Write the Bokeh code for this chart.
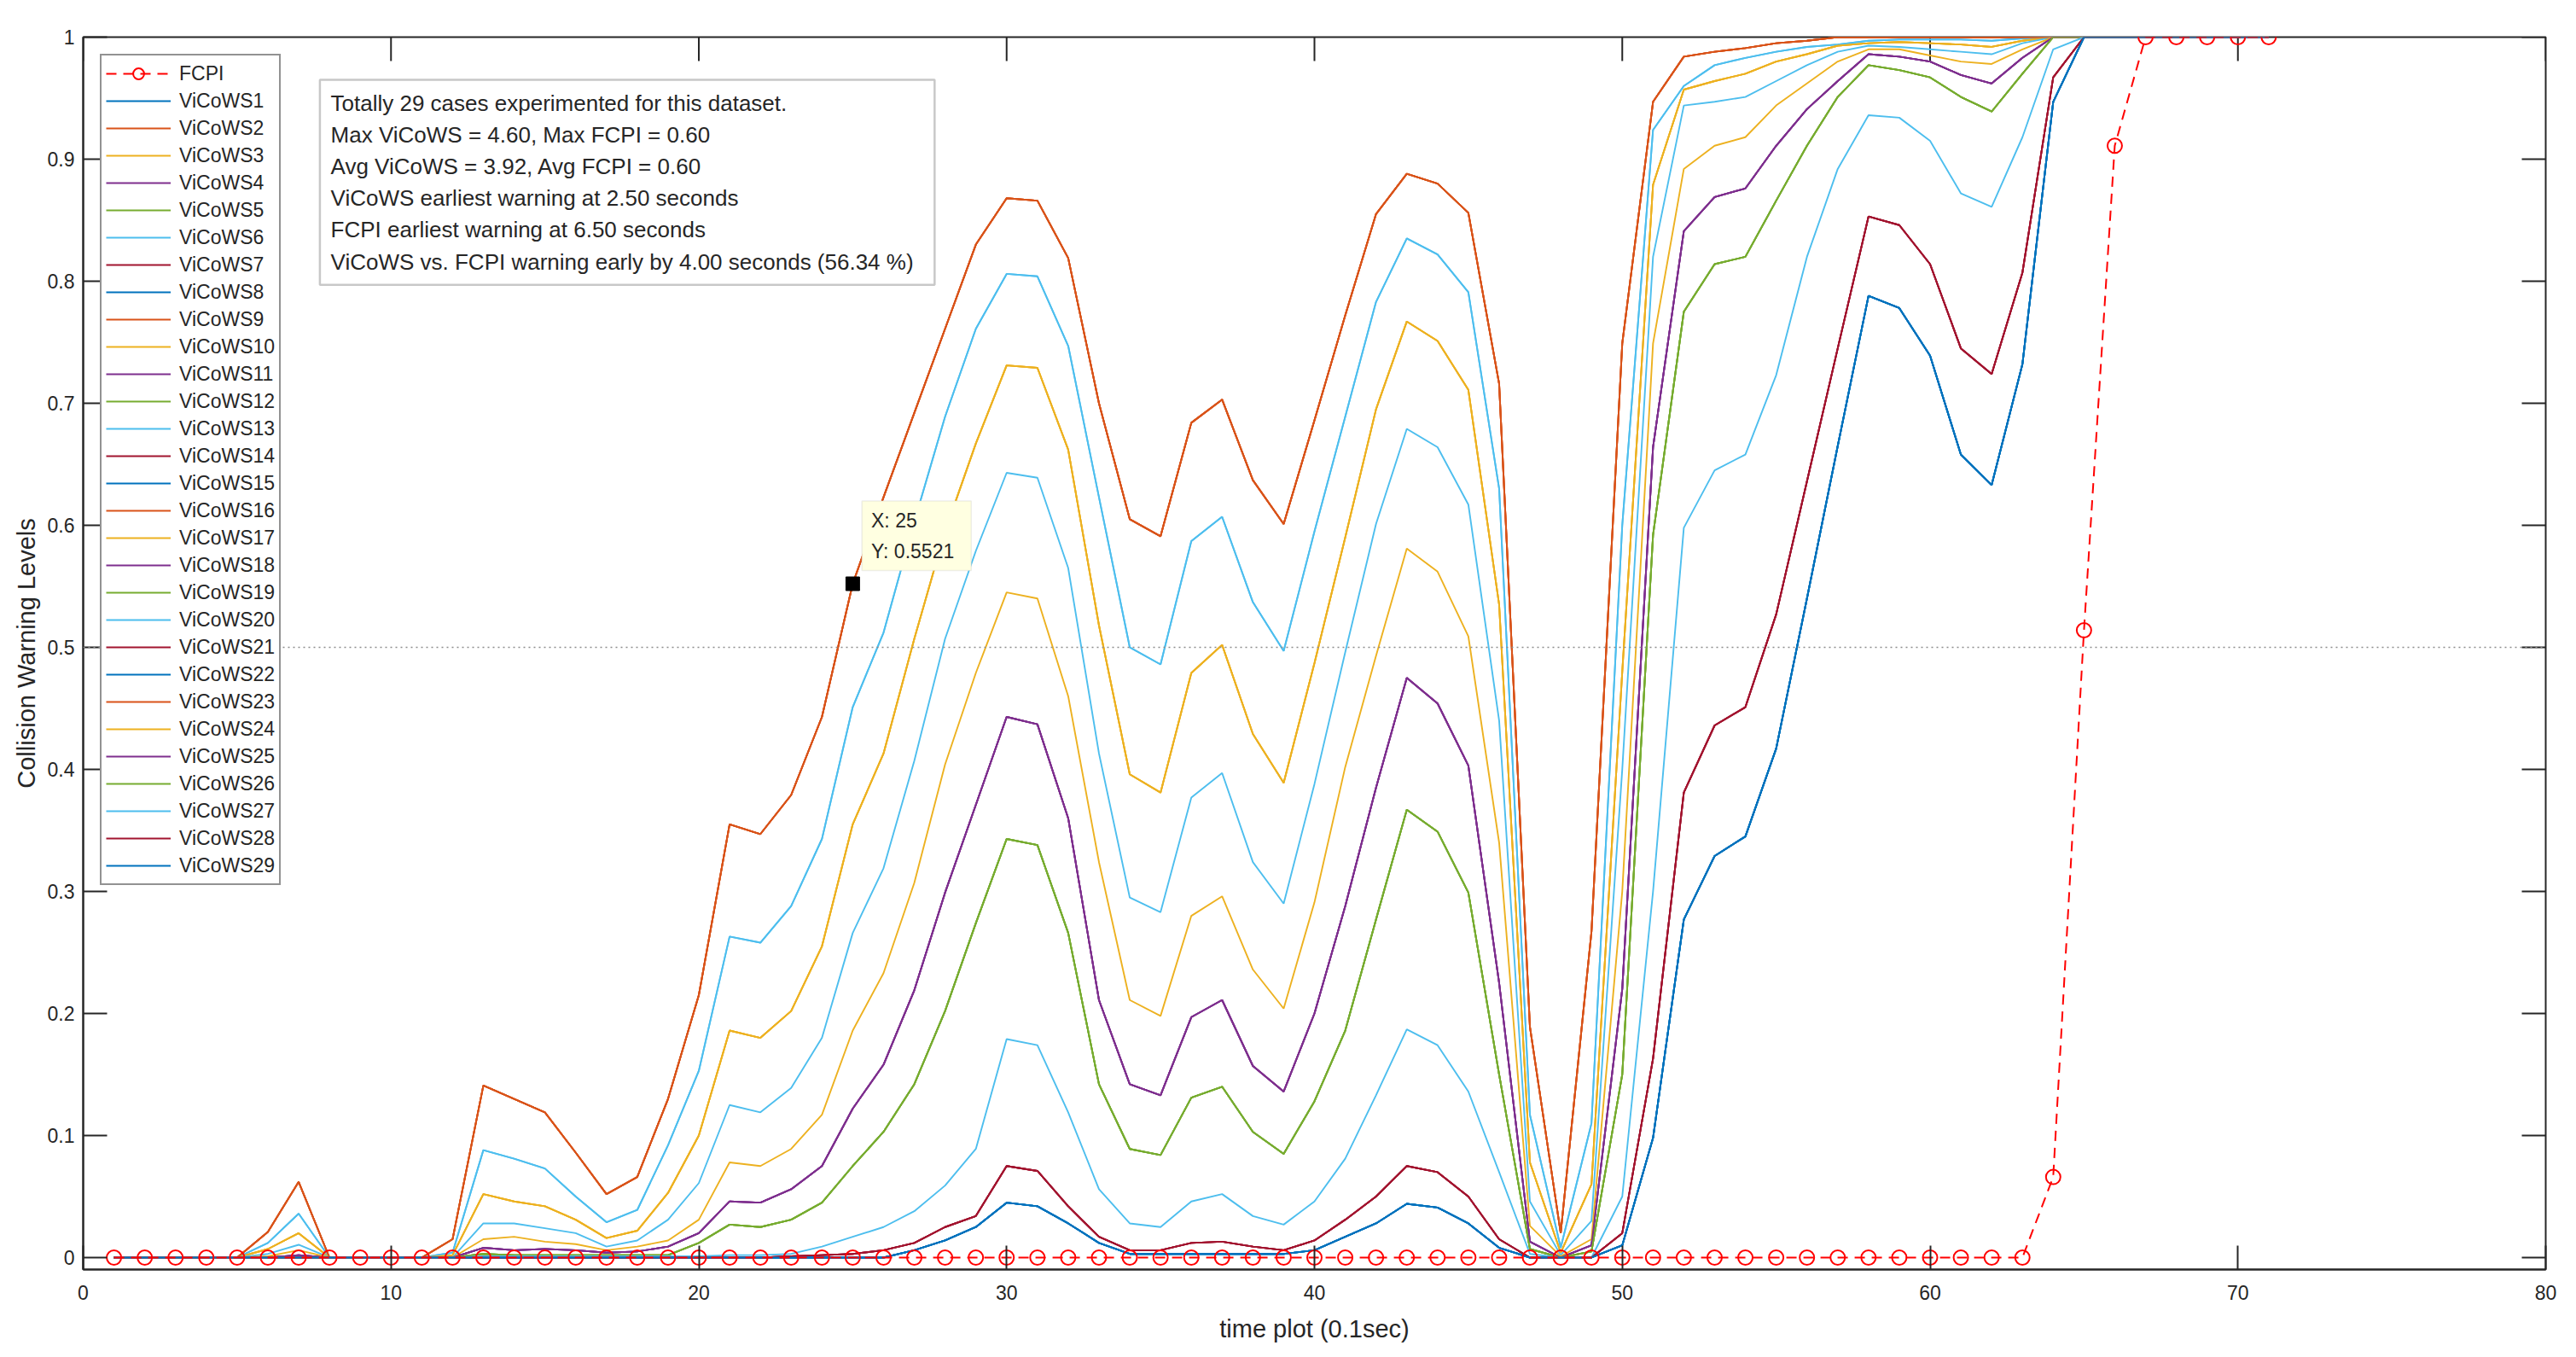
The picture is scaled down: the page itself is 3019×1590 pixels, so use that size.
from bokeh.plotting import figure
from bokeh.models import (Range1d, FixedTicker, NumeralTickFormatter,
                          Legend, LegendItem, Span, BoxAnnotation, Label)
from bokeh.embed import file_html
from bokeh.resources import INLINE

# ---------------- data ----------------
time = list(range(1, 72))

FCPI = [0, 0, 0, 0, 0, 0, 0, 0, 0, 0, 0, 0, 0, 0, 0, 0, 0, 0, 0, 0,
        0, 0, 0, 0, 0, 0, 0, 0, 0, 0, 0, 0, 0, 0, 0, 0, 0, 0, 0, 0,
        0, 0, 0, 0, 0, 0, 0, 0, 0, 0, 0, 0, 0, 0, 0, 0, 0, 0, 0, 0,
        0, 0, 0, 0.066, 0.514, 0.911, 1, 1, 1, 1, 1]

curve_A = [0, 0, 0, 0, 0, 0.021, 0.062, 0, 0, 0, 0, 0.015, 0.141, 0.13, 0.119, 0.086, 0.052, 0.066, 0.13, 0.215,
           0.355, 0.347, 0.379, 0.443, 0.5521, 0.623, 0.692, 0.761, 0.83, 0.868,
           0.866, 0.819, 0.70, 0.605, 0.591, 0.684, 0.703, 0.637, 0.601, 0.686,
           0.772, 0.855, 0.888, 0.88, 0.856, 0.716, 0.189, 0.02, 0.267, 0.749,
           0.947, 0.984, 0.988, 0.991, 0.995, 0.997, 1, 1, 1, 1,
           1, 1, 1, 1, 1, 1, 1, 1, 1, 1, 1]
curve_B = [0, 0, 0, 0, 0, 0.012, 0.036, 0, 0, 0, 0, 0.004, 0.088, 0.081, 0.073, 0.05, 0.029, 0.039, 0.092, 0.153,
           0.263, 0.258, 0.288, 0.343, 0.451, 0.512, 0.603, 0.689, 0.761, 0.806,
           0.804, 0.747, 0.623, 0.5, 0.486, 0.587, 0.607, 0.537, 0.497, 0.595,
           0.689, 0.783, 0.835, 0.822, 0.791, 0.63, 0.117, 0.008, 0.11, 0.6,
           0.924, 0.96, 0.977, 0.983, 0.988, 0.992, 0.994, 0.997, 0.998, 0.998,
           0.998, 0.997, 0.999, 1, 1, 1, 1, 1, 1, 1, 1]
curve_C = [0, 0, 0, 0, 0, 0.007, 0.02, 0, 0, 0, 0, 0.002, 0.052, 0.046, 0.042, 0.031, 0.016, 0.022, 0.053, 0.1,
           0.186, 0.18, 0.202, 0.255, 0.355, 0.413, 0.507, 0.595, 0.667, 0.731,
           0.729, 0.662, 0.518, 0.396, 0.381, 0.479, 0.502, 0.429, 0.389, 0.487,
           0.59, 0.695, 0.767, 0.751, 0.711, 0.535, 0.078, 0.004, 0.06, 0.48,
           0.879, 0.957, 0.964, 0.97, 0.98, 0.986, 0.993, 0.995, 0.996, 0.995,
           0.994, 0.992, 0.997, 1, 1, 1, 1, 1, 1, 1, 1]
curve_D = [0, 0, 0, 0, 0, 0.003, 0.0105, 0, 0, 0, 0, 0, 0.028, 0.028, 0.024, 0.02, 0.009, 0.014, 0.031, 0.061,
           0.125, 0.119, 0.139, 0.18, 0.266, 0.319, 0.407, 0.507, 0.579, 0.643,
           0.639, 0.565, 0.413, 0.295, 0.283, 0.377, 0.397, 0.324, 0.29, 0.388,
           0.496, 0.601, 0.679, 0.664, 0.617, 0.44, 0.046, 0.002, 0.03, 0.4,
           0.82, 0.944, 0.947, 0.951, 0.964, 0.977, 0.988, 0.993, 0.992, 0.99,
           0.988, 0.986, 0.995, 1, 1, 1, 1, 1, 1, 1, 1]
curve_E = [0, 0, 0, 0, 0, 0.001, 0.006, 0, 0, 0, 0, 0, 0.015, 0.017, 0.013, 0.011, 0.006, 0.009, 0.014, 0.031,
           0.078, 0.075, 0.089, 0.117, 0.186, 0.233, 0.307, 0.404, 0.479, 0.545,
           0.54, 0.46, 0.324, 0.211, 0.198, 0.28, 0.296, 0.236, 0.204, 0.291,
           0.402, 0.493, 0.581, 0.562, 0.509, 0.34, 0.026, 0.001, 0.015, 0.3,
           0.749, 0.892, 0.911, 0.918, 0.944, 0.962, 0.98, 0.99, 0.99, 0.985,
           0.98, 0.978, 0.99, 1, 1, 1, 1, 1, 1, 1, 1]
curve_F = [0, 0, 0, 0, 0, 0, 0.002, 0, 0, 0, 0, 0, 0.008, 0.006, 0.007, 0.006, 0.004, 0.005, 0.009, 0.02,
           0.046, 0.045, 0.056, 0.075, 0.122, 0.158, 0.219, 0.299, 0.371, 0.443,
           0.437, 0.36, 0.211, 0.142, 0.133, 0.197, 0.211, 0.157, 0.136, 0.2,
           0.288, 0.385, 0.475, 0.454, 0.403, 0.225, 0.013, 0, 0.01, 0.22,
           0.664, 0.841, 0.869, 0.876, 0.911, 0.941, 0.964, 0.986, 0.984, 0.98,
           0.969, 0.962, 0.983, 1, 1, 1, 1, 1, 1, 1, 1]
curve_G = [0, 0, 0, 0, 0, 0, 0, 0, 0, 0, 0, 0, 0.003, 0.002, 0.002, 0.002, 0.002, 0.002, 0.002, 0.012,
           0.027, 0.025, 0.031, 0.045, 0.075, 0.103, 0.142, 0.202, 0.274, 0.343,
           0.338, 0.266, 0.142, 0.089, 0.084, 0.131, 0.14, 0.103, 0.085, 0.128,
           0.186, 0.277, 0.367, 0.349, 0.299, 0.15, 0.007, 0, 0.005, 0.15,
           0.592, 0.775, 0.814, 0.82, 0.866, 0.911, 0.951, 0.977, 0.973, 0.967,
           0.951, 0.939, 0.97, 1, 1, 1, 1, 1, 1, 1, 1]
curve_H = [0, 0, 0, 0, 0, 0, 0, 0, 0, 0, 0, 0, 0.001, 0.001, 0.001, 0.001, 0.001, 0.001, 0.001, 0.001,
           0.002, 0.002, 0.003, 0.009, 0.017, 0.025, 0.038, 0.059, 0.089, 0.179,
           0.174, 0.119, 0.056, 0.028, 0.025, 0.046, 0.052, 0.034, 0.027, 0.046,
           0.081, 0.133, 0.187, 0.174, 0.136, 0.07, 0.003, 0, 0, 0.05,
           0.3, 0.598, 0.645, 0.658, 0.723, 0.82, 0.892, 0.936, 0.934, 0.915,
           0.872, 0.861, 0.918, 0.99, 1, 1, 1, 1, 1, 1, 1]
curve_I = [0, 0, 0, 0, 0, 0, 0, 0, 0, 0, 0, 0, 0, 0, 0, 0, 0, 0, 0, 0,
           0, 0, 0.001, 0.002, 0.003, 0.006, 0.012, 0.025, 0.034, 0.075,
           0.071, 0.042, 0.017, 0.006, 0.006, 0.012, 0.013, 0.009, 0.006, 0.014,
           0.031, 0.05, 0.075, 0.07, 0.05, 0.015, 0, 0, 0, 0.02,
           0.163, 0.381, 0.436, 0.451, 0.527, 0.636, 0.745, 0.853, 0.846, 0.814,
           0.745, 0.724, 0.807, 0.967, 1, 1, 1, 1, 1, 1, 1]
curve_J = [0, 0, 0, 0, 0, 0, 0, 0, 0, 0, 0, 0, 0, 0, 0, 0, 0, 0, 0, 0,
           0, 0, 0, 0, 0, 0, 0.006, 0.014, 0.025, 0.045,
           0.042, 0.028, 0.012, 0.003, 0.003, 0.003, 0.003, 0.003, 0.003, 0.006,
           0.017, 0.028, 0.044, 0.041, 0.028, 0.008, 0, 0, 0, 0.01,
           0.098, 0.277, 0.329, 0.345, 0.417, 0.54, 0.665, 0.788, 0.778, 0.739,
           0.658, 0.633, 0.732, 0.947, 1, 1, 1, 1, 1, 1, 1]

curves = {"A": curve_A, "B": curve_B, "C": curve_C, "D": curve_D, "E": curve_E,
          "F": curve_F, "G": curve_G, "H": curve_H, "I": curve_I, "J": curve_J}

# which visible curve each ViCoWS case follows (many cases coincide)
series_curve = ["J", "A", "C", "F", "G", "B", "I",
                "J", "A", "C", "F", "G", "B", "I",
                "J", "A", "C", "F", "G", "D", "I",
                "J", "A", "E", "F", "G", "H", "I",
                "J"]
series_names = [f"ViCoWS{i}" for i in range(1, 30)]

x_ticks = [0, 10, 20, 30, 40, 50, 60, 70, 80]
y_ticks = [0, 0.1, 0.2, 0.3, 0.4, 0.5, 0.6, 0.7, 0.8, 0.9, 1.0]

info_lines = ["Totally 29 cases experimented for this dataset.",
              "Max ViCoWS = 4.60, Max FCPI = 0.60",
              "Avg ViCoWS = 3.92, Avg FCPI = 0.60",
              "ViCoWS earliest warning at 2.50 seconds",
              "FCPI earliest warning at 6.50 seconds",
              "ViCoWS vs. FCPI warning early by 4.00 seconds (56.34 %)"]

tip_x = 25

# ---------------- styling ----------------
matlab_colors = ["#0072BD", "#D95319", "#EDB120", "#7E2F8E", "#77AC30", "#4DBEEE", "#A2142F"]
FONT = "Liberation Sans"
DARK = "#262626"
X0, X1 = 0, 80
Y0, Y1 = -0.0098, 1.0
W, H = 3011, 1582
BL, BR, BT, BB = 97, 28, 43, 95
TICK = 28  # px, inward

p = figure(width=W, height=H, output_backend="svg", toolbar_location=None,
           x_range=Range1d(X0, X1), y_range=Range1d(Y0, Y1),
           min_border_left=BL, min_border_right=BR, min_border_top=BT, min_border_bottom=BB)
p.background_fill_color = "white"
p.border_fill_color = "white"
p.xgrid.grid_line_color = None
p.ygrid.grid_line_color = None
p.outline_line_color = DARK
p.outline_line_width = 2

for ax, ticks in ((p.xaxis[0], x_ticks), (p.yaxis[0], y_ticks)):
    ax.ticker = FixedTicker(ticks=ticks)
    ax.major_tick_in = TICK
    ax.major_tick_out = 0
    ax.minor_tick_line_color = None
    ax.axis_line_color = DARK
    ax.axis_line_width = 2
    ax.major_tick_line_color = DARK
    ax.major_tick_line_width = 2
    ax.major_label_text_font = FONT
    ax.major_label_text_font_size = "23px"
    ax.major_label_text_color = DARK
    ax.axis_label_text_font = FONT
    ax.axis_label_text_font_size = "29px"
    ax.axis_label_text_font_style = "normal"
    ax.axis_label_text_color = DARK
p.yaxis[0].formatter = NumeralTickFormatter(format="0.[0]")
p.xaxis[0].major_label_standoff = 18
p.yaxis[0].major_label_standoff = 10
p.xaxis.axis_label = "time plot (0.1sec)"
p.yaxis.axis_label = "Collision Warning Levels"
p.xaxis[0].axis_label_standoff = 15
p.yaxis[0].axis_label_standoff = 6

# inward ticks on the top and right edges of the box
frame_w = W - BL - BR
frame_h = H - BT - BB
dy_tick = TICK * (Y1 - Y0) / frame_h
dx_tick = TICK * (X1 - X0) / frame_w
p.segment(x0=x_ticks, y0=[Y1] * len(x_ticks), x1=x_ticks, y1=[Y1 - dy_tick] * len(x_ticks),
          line_color=DARK, line_width=2)
p.segment(x0=[X1] * len(y_ticks), y0=y_ticks, x1=[X1 - dx_tick] * len(y_ticks), y1=y_ticks,
          line_color=DARK, line_width=2)

# 0.5 reference line
p.add_layout(Span(location=0.5, dimension="width", line_color="#8c8c8c",
                  line_dash="dotted", line_width=1.5))

# ViCoWS cases
vicows_renderers = []
for i, (name, key) in enumerate(zip(series_names, series_curve)):
    r = p.line(time, curves[key], line_color=matlab_colors[i % 7], line_width=1.9)
    vicows_renderers.append(r)

# FCPI
f_line = p.line(time, FCPI, line_color="#FF0000", line_width=2, line_dash="12 8")
f_mark = p.scatter(time, FCPI, marker="circle", size=17, line_color="#FF0000",
                   fill_color=None, line_width=2)

# legend
items = [LegendItem(label="FCPI", renderers=[f_line, f_mark])]
items += [LegendItem(label=n, renderers=[r]) for n, r in zip(series_names, vicows_renderers)]
legend = Legend(items=items, location="top_left", margin=20, padding=5, spacing=0,
                glyph_width=76, glyph_height=32, label_height=32, label_standoff=10,
                label_text_font=FONT, label_text_font_size="23px", label_text_color=DARK,
                border_line_color=DARK, border_line_width=2,
                background_fill_color="white", background_fill_alpha=1.0)
p.add_layout(legend)

# info box
p.add_layout(BoxAnnotation(left=7.69, right=27.66, bottom=0.797, top=0.965,
                           fill_color="white", fill_alpha=1.0,
                           line_color="#4a4a4a", line_width=2.5))
info_y = [0.946, 0.920, 0.894, 0.868, 0.842, 0.816]
for txt, yy in zip(info_lines, info_y):
    p.add_layout(Label(x=8.04, y=yy, text=txt, text_font=FONT, text_font_size="26px",
                       text_color=DARK, text_baseline="middle"))

# data tip
tip_y = curve_A[time.index(tip_x)]
p.add_layout(BoxAnnotation(left=25.3, right=28.85, bottom=0.563, top=0.620,
                           fill_color="#FFFFE1", fill_alpha=1.0,
                           line_color="#c8c8c8", line_width=1.5))
p.add_layout(Label(x=25.6, y=0.6035, text=f"X: {tip_x}", text_font=FONT,
                   text_font_size="23px", text_color=DARK, text_baseline="middle"))
p.add_layout(Label(x=25.6, y=0.579, text=f"Y: {tip_y:.4f}", text_font=FONT,
                   text_font_size="23px", text_color=DARK, text_baseline="middle"))
p.scatter([tip_x], [tip_y], marker="square", size=16, color="black")

open("out.html", "w").write(file_html(p, INLINE))
